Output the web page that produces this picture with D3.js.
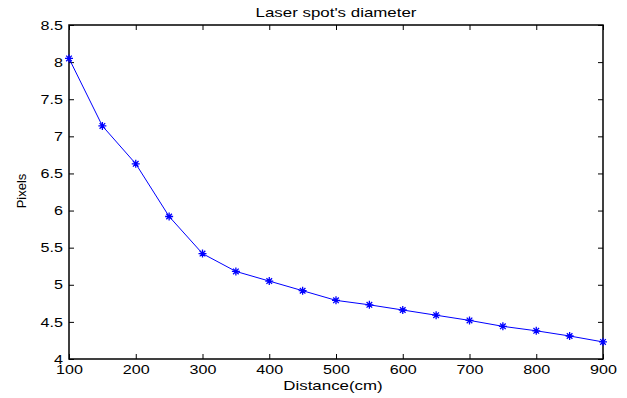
<!DOCTYPE html>
<html><head><meta charset="utf-8">
<script src="https://cdn.jsdelivr.net/npm/d3@7"></script>
<style>body{margin:0;background:#fff}svg{display:block}text{font-family:"Liberation Sans",Arial,sans-serif;fill:#000}</style>
</head><body><svg id="c" width="627" height="398"></svg>
<script>
const distances = [100,150,200,250,300,350,400,450,500,550,600,650,700,750,800,850,900];
const pixels = [8.05,7.14,6.63,5.92,5.42,5.18,5.05,4.92,4.79,4.73,4.66,4.59,4.52,4.44,4.38,4.31,4.23];
const xTicks = [100,200,300,400,500,600,700,800,900];
const yTicks = [4,4.5,5,5.5,6,6.5,7,7.5,8,8.5];
const titleText = "Laser spot's diameter";
const xLabel = "Distance(cm)";
const yLabel = "Pixels";

const svg = d3.select("#c");
const L=69,R=603,T=25,B=359;
const x = d3.scaleLinear().domain([100,900]).range([L,R]);
const y = d3.scaleLinear().domain([4,8.5]).range([B,T]);
const fs = 13, sx = 1.24, sx2 = 1.3;

const gx = svg.append("g").attr("transform",`translate(0,${B})`)
  .call(d3.axisBottom(x).tickValues(xTicks).tickSize(-5).tickPadding(6).tickFormat(d3.format("d")));
const gxt = svg.append("g").attr("transform",`translate(0,${T})`)
  .call(d3.axisTop(x).tickValues(xTicks).tickSize(-5).tickFormat(""));
const gy = svg.append("g").attr("transform",`translate(${L},0)`)
  .call(d3.axisLeft(y).tickValues(yTicks).tickSize(-5).tickPadding(6).tickFormat(d=>String(d)));
const gyr = svg.append("g").attr("transform",`translate(${R},0)`)
  .call(d3.axisRight(y).tickValues(yTicks).tickSize(-5).tickFormat(""));
[gx,gxt,gy,gyr].forEach(g=>{
  g.select(".domain").remove();
  g.selectAll("line").attr("stroke","#000").attr("stroke-width",1);
  g.selectAll("text").style("font-size",fs+"px").style("font-family",'"Liberation Sans",Arial,sans-serif').attr("fill","#000")
    .attr("transform",`scale(${sx},1)`);
});
gy.selectAll("text").attr("x",-6/sx);
svg.append("rect").attr("x",L).attr("y",T).attr("width",R-L).attr("height",B-T)
  .attr("fill","none").attr("stroke","#000").attr("stroke-width",1.5);

const data = distances.map((d,i)=>[d,pixels[i]]);
svg.append("path").datum(data).attr("fill","none").attr("stroke","#0000ff").attr("stroke-width",1)
  .attr("d",d3.line().x(d=>x(d[0])).y(d=>y(d[1])));
const s=4;
const mk = svg.append("g").attr("stroke","#0000ff").attr("stroke-width",1.3);
data.forEach(d=>{
  const cx=x(d[0]), cy=y(d[1]);
  mk.append("path").attr("d",`M${cx-s},${cy}H${cx+s}M${cx},${cy-s}V${cy+s}M${cx-s*0.7},${cy-s*0.7}L${cx+s*0.7},${cy+s*0.7}M${cx-s*0.7},${cy+s*0.7}L${cx+s*0.7},${cy-s*0.7}`);
});

svg.append("text").attr("transform",`translate(336,17) scale(${sx2},1)`).attr("text-anchor","middle").style("font-size","13px").text(titleText);
svg.append("text").attr("transform",`translate(333,390) scale(${sx2},1)`).attr("text-anchor","middle").style("font-size","13px").text(xLabel);
svg.append("text").attr("transform",`translate(26,191) rotate(-90)`).attr("text-anchor","middle").style("font-size","13px").text(yLabel);
</script></body></html>
